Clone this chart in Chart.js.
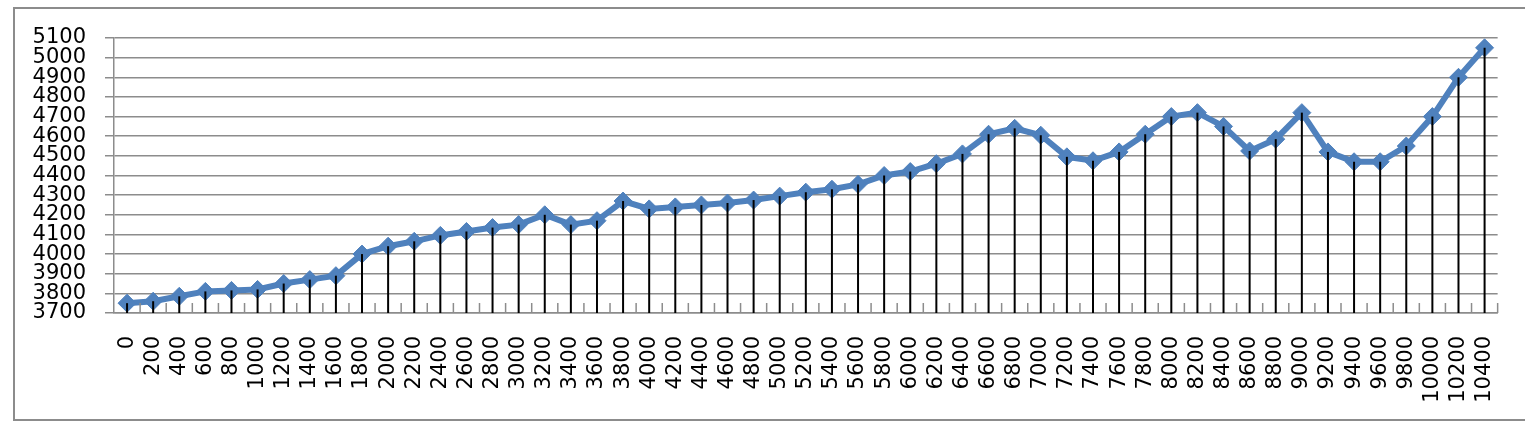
<!DOCTYPE html>
<html>
<head>
<meta charset="utf-8">
<script src="https://cdn.jsdelivr.net/npm/chart.js@4/dist/chart.umd.min.js"></script>
<style>
  body { margin: 0; background: #fff; overflow: hidden; }
  #frame { position: absolute; left: 13px; top: 7px; width: 1530px; height: 410px; border: 2px solid #8c8c8c; }
  #wrap { position: absolute; left: 0; top: 0; width: 1525px; height: 421px; }
</style>
</head>
<body>
<div id="frame"></div>
<div id="wrap"><canvas id="chart-1"></canvas></div>
<script>
const chart1 = document.querySelector('#chart-1');

const distances = ['0', '200', '400', '600', '800', '1000', '1200', '1400', '1600', '1800',
  '2000', '2200', '2400', '2600', '2800', '3000', '3200', '3400', '3600', '3800',
  '4000', '4200', '4400', '4600', '4800', '5000', '5200', '5400', '5600', '5800',
  '6000', '6200', '6400', '6600', '6800', '7000', '7200', '7400', '7600', '7800',
  '8000', '8200', '8400', '8600', '8800', '9000', '9200', '9400', '9600', '9800',
  '10000', '10200', '10400'];

const heights = [3750, 3760, 3785, 3810, 3815, 3820, 3850, 3870, 3890, 4000,
  4040, 4065, 4095, 4115, 4135, 4150, 4200, 4150, 4170, 4270,
  4230, 4240, 4250, 4260, 4275, 4295, 4315, 4330, 4355, 4400,
  4420, 4460, 4510, 4610, 4640, 4605, 4495, 4475, 4520, 4610,
  4700, 4720, 4650, 4525, 4585, 4720, 4520, 4470, 4470, 4550,
  4700, 4900, 5050];

const yMin = 3700;
const yMax = 5100;
const yStep = 100;

// black drop lines from each point + small ticks between categories
const dropLines = {
    id: 'dropLines',
    afterDatasetsDraw(chart) {
        const ctx = chart.ctx;
        const x = chart.scales.x;
        const bottom = chart.chartArea.bottom;
        const meta = chart.getDatasetMeta(0);

        ctx.save();
        ctx.strokeStyle = '#8c8c8c';
        ctx.lineWidth = 1.5;
        for (let i = 0; i < distances.length; i++) {
            const px = x.getPixelForTick(i) + (x.getPixelForTick(1) - x.getPixelForTick(0)) / 2;
            ctx.beginPath();
            ctx.moveTo(px, bottom);
            ctx.lineTo(px, bottom - 10);
            ctx.stroke();
        }

        ctx.strokeStyle = '#000';
        ctx.lineWidth = 2;
        meta.data.forEach(pt => {
            ctx.beginPath();
            ctx.moveTo(pt.x, pt.y);
            ctx.lineTo(pt.x, bottom);
            ctx.stroke();
        });
        ctx.restore();
    }
};

new Chart(chart1, {
    type: 'line',
    data: {
        labels: distances,
        datasets: [{
            data: heights,
            borderColor: '#4F81BD',
            backgroundColor: '#4F81BD',
            borderWidth: 6,
            pointStyle: 'rectRot',
            pointRadius: 9,
            pointBorderWidth: 1,
            tension: 0
        }]
    },
    options: {
        responsive: true,
        maintainAspectRatio: false,
        animation: false,
        layout: { padding: { left: 0, right: 22, top: 38, bottom: 0 } },
        plugins: {
            legend: { display: false },
            tooltip: { enabled: false }
        },
        scales: {
            x: {
                offset: true,
                afterFit: scale => { scale.height = 108; },
                grid: { display: false },
                border: { display: true, color: '#8c8c8c', width: 1.5 },
                ticks: {
                    autoSkip: false,
                    minRotation: 90,
                    maxRotation: 90,
                    padding: 15,
                    color: '#000',
                    font: { family: 'DejaVu Sans', size: 21 }
                }
            },
            y: {
                min: yMin,
                max: yMax,
                afterFit: scale => { scale.width = 114; },
                grid: { color: '#8c8c8c', lineWidth: 1.5, tickLength: 9, drawTicks: true },
                border: { display: true, color: '#8c8c8c', width: 1.5 },
                ticks: {
                    stepSize: yStep,
                    autoSkip: false,
                    padding: 19,
                    color: '#000',
                    font: { family: 'DejaVu Sans', size: 21 },
                    callback: v => String(v)
                }
            }
        }
    },
    plugins: [dropLines]
});
</script>
</body>
</html>
